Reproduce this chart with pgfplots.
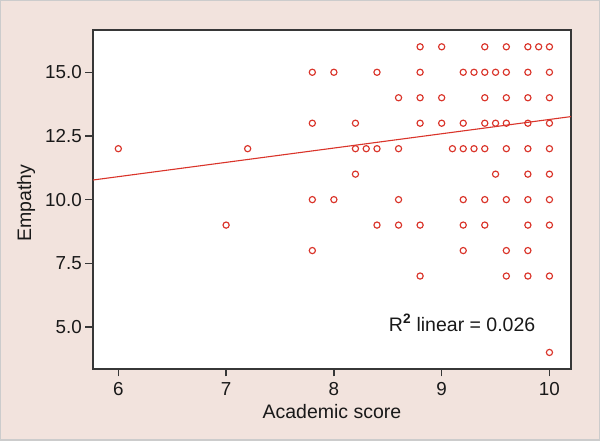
\documentclass[border=0pt]{standalone}
\usepackage{fontspec}
\setmainfont{Liberation Sans}
\usepackage{pgfplots}
\pgfplotsset{compat=1.18}
\definecolor{bgpink}{RGB}{242,227,221}
\definecolor{ptred}{RGB}{218,52,42}
\definecolor{framegray}{RGB}{55,55,55}
\begin{document}
\begin{tikzpicture}
\fill[bgpink] (-93pt,-72pt) rectangle (507pt,369pt);
\draw[color=black!20, line width=1.5pt] (-92.25pt,-71.25pt) rectangle (506.25pt,368.25pt);
\begin{axis}[
  at={(0,0)}, anchor=south west,
  scale only axis, width=478pt, height=339pt,
  xmin=5.765, xmax=10.2, ymin=3.35, ymax=16.66,
  axis background/.style={fill=white},
  axis line style={color=framegray, line width=1.3pt},
  tick align=outside, tick pos=left,
  major tick length=7.5pt,
  every tick/.style={color=framegray, line width=1.3pt},
  xtick={6,7,8,9,10}, ytick={5,7.5,10,12.5,15},
  /pgf/number format/assume math mode=true,
  yticklabel style={/pgf/number format/fixed, /pgf/number format/fixed zerofill, /pgf/number format/precision=1, font=\fontsize{18.8}{21}\selectfont, color=black!90, inner sep=3.5pt},
  xticklabel style={font=\fontsize{18.8}{21}\selectfont, color=black!90, inner sep=4pt, yshift=-2pt},
  xlabel={Academic score},
  ylabel={Empathy},
  xlabel style={at={(axis description cs:0.5,0)}, anchor=base, yshift=-49.3pt, font=\fontsize{19.5}{22}\selectfont, color=black!90},
  ylabel style={at={(axis description cs:-0.1402,0.49)}, anchor=center, rotate=0, font=\fontsize{19.5}{22}\selectfont, color=black!90},
  clip=false,
]
\addplot[only marks, mark=o, mark size=3.1pt, mark options={line width=1.15pt, color=ptred}] coordinates {
 (8.8,16) (9.0,16) (9.4,16) (9.6,16) (9.8,16) (9.9,16) (10.0,16)
 (7.8,15) (8.0,15) (8.4,15) (8.8,15) (9.2,15) (9.3,15) (9.4,15) (9.5,15) (9.6,15) (9.8,15) (10.0,15)
 (8.6,14) (8.8,14) (9.0,14) (9.4,14) (9.6,14) (9.8,14) (10.0,14)
 (7.8,13) (8.2,13) (8.8,13) (9.0,13) (9.2,13) (9.4,13) (9.5,13) (9.6,13) (9.8,13) (10.0,13)
 (6.0,12) (7.2,12) (8.2,12) (8.3,12) (8.4,12) (8.6,12) (9.1,12) (9.2,12) (9.3,12) (9.4,12) (9.6,12) (9.8,12) (10.0,12)
 (8.2,11) (9.5,11) (9.8,11) (10.0,11)
 (7.8,10) (8.0,10) (8.6,10) (9.2,10) (9.4,10) (9.6,10) (9.8,10) (10.0,10)
 (7.0,9) (8.4,9) (8.6,9) (8.8,9) (9.2,9) (9.4,9) (9.8,9) (10.0,9)
 (7.8,8) (9.2,8) (9.6,8) (9.8,8)
 (8.8,7) (9.6,7) (9.8,7) (10.0,7)
 (10.0,4)
};
\addplot[color=ptred, line width=1.1pt] coordinates {(5.765,10.77) (10.2,13.26)};
\node[anchor=base, font=\fontsize{19.5}{22}\selectfont, color=black!90] at (axis cs:9.19,4.835) {R\textsuperscript{\textbf{2}} linear = 0.026};
\end{axis}
\pgfresetboundingbox
\path (-93pt,-72pt) rectangle (507pt,369pt);
\end{tikzpicture}
\end{document}
